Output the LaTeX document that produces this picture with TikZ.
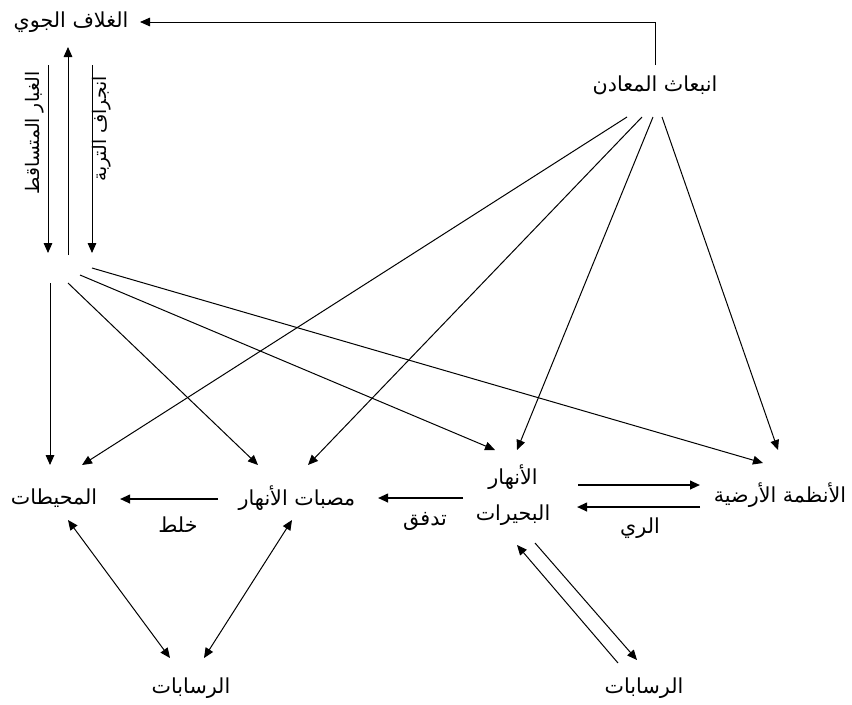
\documentclass[tikz,border=0pt]{standalone}
\usepackage{fontspec}
\newfontfamily\arabicfont[Script=Arabic]{DejaVu Sans}
\TeXXeTstate=1
\usetikzlibrary{arrows.meta}

\begin{document}
\begin{tikzpicture}[x=0.75pt,y=-0.75pt,>={Triangle[length=7.5pt,width=6.5pt]},
  box/.style={font=\arabicfont\fontsize{15.5}{27}\selectfont,inner sep=0pt,align=center},
  side/.style={box,font=\arabicfont\fontsize{14}{17}\selectfont,rotate=90},
  flow/.style={->,line width=0.75pt},
  main/.style={->,line width=1.4pt}]
  \useasboundingbox (0,0) rectangle (852,704);
  \node[box] (atm) at (71,22) {\beginR الغلاف الجوي\endR};
  \node[box] (min) at (655,85) {\beginR انبعاث المعادن\endR};
  \node[box] (oce) at (54,498) {\beginR المحيطات\endR};
  \node[box] (mou) at (297,498) {\beginR مصبات الأنهار\endR};
  \node[box] (riv) at (513,495) {\beginR الأنهار\endR\\\beginR البحيرات\endR};
  \node[box] (lnd) at (780,495) {\beginR الأنظمة الأرضية\endR};
  \node[box] (sedL) at (191,688) {\beginR الرسابات\endR};
  \node[box] (sedR) at (644,688) {\beginR الرسابات\endR};
  \node[side] (dust) at (35,133) {\beginR الغبار المتساقط\endR};
  \node[side] (eros) at (102,129) {\beginR انجراف التربة\endR};
  \node[box] (mix) at (178,525) {\beginR خلط\endR};
  \node[box] (run) at (425,521) {\beginR تدفق\endR};
  \node[box] (irr) at (640,528) {\beginR الري\endR};
  \coordinate (hub) at (68,262);
  \draw[flow] ([shift={(0,-20)}]min.center) |- ([shift={(69,0)}]atm.center);
  \draw[flow] ([shift={(-23,43)}]atm.center) -- ([shift={(-20,-9)}]hub);
  \draw[flow] ([shift={(0,-7)}]hub) -- ([shift={(-3,25)}]atm.center);
  \draw[flow] ([shift={(21,43)}]atm.center) -- ([shift={(24,-9)}]hub);
  \draw[flow] ([shift={(-18,21)}]hub) -- ([shift={(-4,-33)}]oce.center);
  \draw[flow] ([shift={(0,21)}]hub) -- ([shift={(-39,-33)}]mou.center);
  \draw[flow] ([shift={(12,13)}]hub) -- ([shift={(-18,-45)}]riv.center);
  \draw[flow] ([shift={(24,6)}]hub) -- ([shift={(-17,-32)}]lnd.center);
  \draw[flow] ([shift={(-28,32)}]min.center) -- ([shift={(28,-33)}]oce.center);
  \draw[flow] ([shift={(-13,32)}]min.center) -- ([shift={(11,-33)}]mou.center);
  \draw[flow] ([shift={(-2,32)}]min.center) -- ([shift={(4,-45)}]riv.center);
  \draw[flow] ([shift={(7,32)}]min.center) -- ([shift={(-2,-45)}]lnd.center);
  \draw[main] ([shift={(-79,1)}]mou.center) -- ([shift={(66,1)}]oce.center);
  \draw[main] ([shift={(-50,3)}]riv.center) -- ([shift={(81,0)}]mou.center);
  \draw[main] ([shift={(65,-10)}]riv.center) -- ([shift={(-80,-10)}]lnd.center);
  \draw[main] ([shift={(-80,12)}]lnd.center) -- ([shift={(64,12)}]riv.center);
  \draw[flow,<->] ([shift={(14,22)}]oce.center) -- ([shift={(-21,-30)}]sedL.center);
  \draw[flow,<->] ([shift={(-5,22)}]mou.center) -- ([shift={(13,-30)}]sedL.center);
  \draw[flow] ([shift={(-26,-25)}]sedR.center) -- ([shift={(4,50)}]riv.center);
  \draw[flow] ([shift={(22,48)}]riv.center) -- ([shift={(-7,-28)}]sedR.center);
\end{tikzpicture}
\end{document}
